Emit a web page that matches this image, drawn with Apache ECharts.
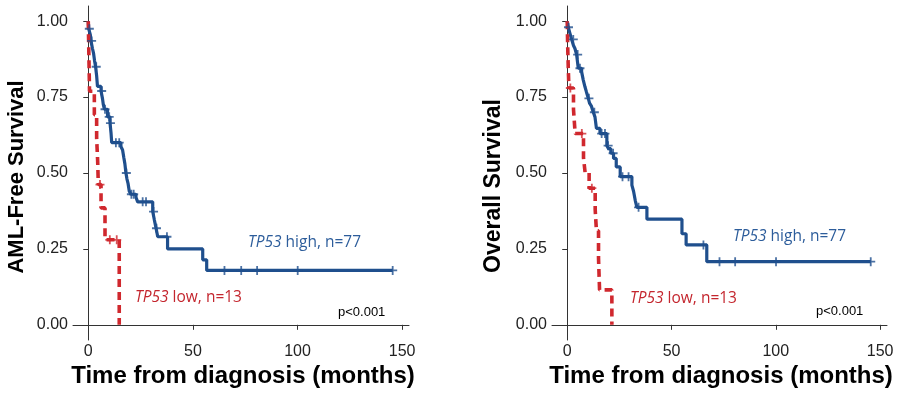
<!DOCTYPE html>
<html><head><meta charset="utf-8">
<script src="https://cdn.jsdelivr.net/npm/echarts@6/dist/echarts.min.js"></script>
<style>html,body{margin:0;padding:0;background:#fff}#c{width:900px;height:395px}</style>
</head><body><div id="c"></div>
<script>
const xTicks = [0, 50, 100, 150];
const yTicks = [0, 0.25, 0.5, 0.75, 1];

// AML-free survival, TP53 high (n=77)
const amlHigh = [[0,1.0],[0.2,0.975],[1.0,0.955],[1.3,0.935],[2.0,0.91],[2.5,0.895],[3.0,0.87],[3.5,0.85],[4.0,0.82],[4.4,0.785],[6.1,0.77],[6.8,0.745],[7.2,0.725],[7.7,0.71],[9.2,0.685],[10.4,0.664],[10.9,0.63],[11.2,0.60],[15.6,0.587],[16.4,0.576],[17.0,0.55],[17.5,0.53],[18.0,0.50],[18.5,0.48],[19.0,0.466],[19.6,0.44],[20.4,0.43],[22.8,0.42],[23.6,0.405],[30.8,0.373],[31.6,0.345],[32.4,0.318],[33.2,0.29],[37.9,0.25],[54.7,0.214],[56.6,0.179],[145.5,0.179]];
const amlHighCensor = [[0.5,0.975],[1.6,0.935],[3.8,0.85],[6.4,0.77],[8.0,0.71],[10.0,0.685],[10.6,0.664],[13.2,0.60],[14.8,0.60],[18.2,0.50],[20.6,0.43],[21.7,0.43],[26.0,0.405],[27.6,0.405],[31.2,0.373],[32.6,0.318],[37.6,0.29],[65.1,0.179],[73.1,0.179],[80.7,0.179],[100.1,0.179],[145.5,0.179]];
// AML-free survival, TP53 low (n=13)
const amlLow = [[0,1],[0.2,0.923],[0.4,0.846],[0.6,0.769],[2.9,0.692],[4.0,0.615],[4.5,0.538],[4.8,0.462],[6.1,0.385],[8.0,0.28],[14.8,0]];
const amlLowCensor = [[5.6,0.462],[10.3,0.28],[13.6,0.28]];

// Overall survival, TP53 high (n=77)
const osHigh = [[0,1.0],[0.5,0.98],[1.3,0.96],[2.1,0.94],[3.0,0.92],[3.7,0.91],[4.5,0.89],[5.3,0.845],[6.9,0.833],[7.7,0.806],[8.5,0.784],[9.2,0.767],[10.1,0.746],[10.7,0.73],[11.6,0.72],[12.5,0.70],[13.3,0.685],[14.0,0.647],[15.7,0.63],[19.0,0.59],[19.8,0.58],[20.9,0.565],[22.2,0.548],[23.5,0.52],[25.4,0.488],[31.0,0.46],[31.8,0.44],[32.6,0.41],[33.4,0.387],[38.2,0.348],[55.0,0.30],[57.0,0.263],[66.9,0.208],[145.5,0.208]];
const osHighCensor = [[0.6,0.98],[2.9,0.94],[5.0,0.89],[6.1,0.845],[10.4,0.746],[13.0,0.70],[16.5,0.63],[18.1,0.63],[19.6,0.59],[22.0,0.565],[26.5,0.488],[29.4,0.488],[34.2,0.387],[65.3,0.263],[73.0,0.208],[80.5,0.208],[100.1,0.208],[145.5,0.208]];
// Overall survival, TP53 low (n=13)
const osLow = [[0,1],[0.2,0.923],[0.5,0.846],[0.8,0.78],[3.0,0.71],[3.8,0.63],[7.8,0.55],[8.6,0.50],[10.5,0.45],[13.4,0.38],[14.0,0.31],[15.0,0.22],[15.5,0.115],[21.4,0]];
const osLowCensor = [[1.5,0.78],[7.0,0.63],[11.8,0.45]];

const yTitles = ['AML-Free Survival', 'Overall Survival'];
const xTitle = 'Time from diagnosis (months)';
const highLabel = 'TP53 high, n=77';
const lowLabel = 'TP53 low, n=13';
const pText = 'p<0.001';

const BLUE = '#1f4f8d', BLUE_T = '#2d5d9b', RED = '#d0282e', RED_T = '#c4262e';
const PLUS = 'path://M4,0H6V4H10V6H6V10H4V6H0V4H4Z';
const FONT = 'Liberation Sans';

const grids = [
  {left: 73, top: 6, width: 336, height: 334},
  {left: 552, top: 6, width: 335, height: 334}
];
function xAx(i){ return {
  type:'value', gridIndex:i, min:-7.3, max:153.3,
  splitLine:{show:false},
  axisLine:{lineStyle:{color:'#333',width:1}},
  axisTick:{customValues:xTicks,length:5,lineStyle:{color:'#333'}},
  axisLabel:{customValues:xTicks,color:'#222',fontSize:16,fontFamily:FONT,margin:4}
};}
function yAx(i){ return {
  type:'value', gridIndex:i, min:-0.05, max:1.05,
  splitLine:{show:false},
  axisLine:{show:true,lineStyle:{color:'#333',width:1}},
  axisTick:{show:true,customValues:yTicks,length:5,lineStyle:{color:'#333'}},
  axisLabel:{customValues:yTicks,color:'#222',fontSize:16,fontFamily:FONT,margin:5,formatter:v=>v.toFixed(2)}
};}
function curve(i,data,color,dashed){ return {
  type:'line', xAxisIndex:i, yAxisIndex:i, data:data, step:'end', symbol:'none',
  lineStyle:{color:color,width:dashed?3.6:3.2,type:dashed?[8,5]:'solid'}, z:dashed?3:2, silent:true
};}
function cens(i,data,color){ return {
  type:'scatter', xAxisIndex:i, yAxisIndex:i, data:data, symbol:PLUS, symbolSize:9,
  itemStyle:{color:color}, z:4, silent:true
};}

function lbl(x,y,txt,color,size){
  const parts = txt.split(' ');
  return {type:'text', x:x, y:y, style:{
    text:'{i|'+parts[0]+'} '+parts.slice(1).join(' '),
    fill:color, font:size+'px "Open Sans"', verticalAlign:'middle', align:'left',
    rich:{i:{fontStyle:'italic',fill:color,fontSize:size,fontFamily:'Open Sans'}}
  }};
}

const chart = echarts.init(document.getElementById('c'), null, {renderer:'canvas'});
chart.setOption({
  animation:false,
  backgroundColor:'#fff',
  grid:grids,
  xAxis:[xAx(0),xAx(1)],
  yAxis:[yAx(0),yAx(1)],
  series:[
    curve(0,amlHigh,BLUE,false), cens(0,amlHighCensor,BLUE),
    curve(0,amlLow,RED,true), cens(0,amlLowCensor,RED),
    curve(1,osHigh,BLUE,false), cens(1,osHighCensor,BLUE),
    curve(1,osLow,RED,true), cens(1,osLowCensor,RED)
  ],
  graphic:[
    {type:'text', x:17, y:177, rotation:Math.PI/2, style:{text:yTitles[0], font:'bold 22px "'+FONT+'"', fill:'#000', align:'center', verticalAlign:'middle'}},
    {type:'text', x:494, y:186, rotation:Math.PI/2, style:{text:yTitles[1], font:'bold 23px "'+FONT+'"', fill:'#000', align:'center', verticalAlign:'middle'}},
    {type:'text', x:243, y:376, style:{text:xTitle, font:'bold 24px "'+FONT+'"', fill:'#000', align:'center', verticalAlign:'middle'}},
    {type:'text', x:721, y:376, style:{text:xTitle, font:'bold 24px "'+FONT+'"', fill:'#000', align:'center', verticalAlign:'middle'}},
    lbl(248,243,highLabel,BLUE_T,15.5),
    lbl(733,237,highLabel,BLUE_T,15.5),
    lbl(135,298,lowLabel,RED_T,15.5),
    lbl(630,299,lowLabel,RED_T,15.5),
    {type:'text', x:338, y:312, style:{text:pText, font:'13px "'+FONT+'"', fill:'#000', align:'left', verticalAlign:'middle'}},
    {type:'text', x:816, y:311, style:{text:pText, font:'13px "'+FONT+'"', fill:'#000', align:'left', verticalAlign:'middle'}}
  ]
});
</script></body></html>
